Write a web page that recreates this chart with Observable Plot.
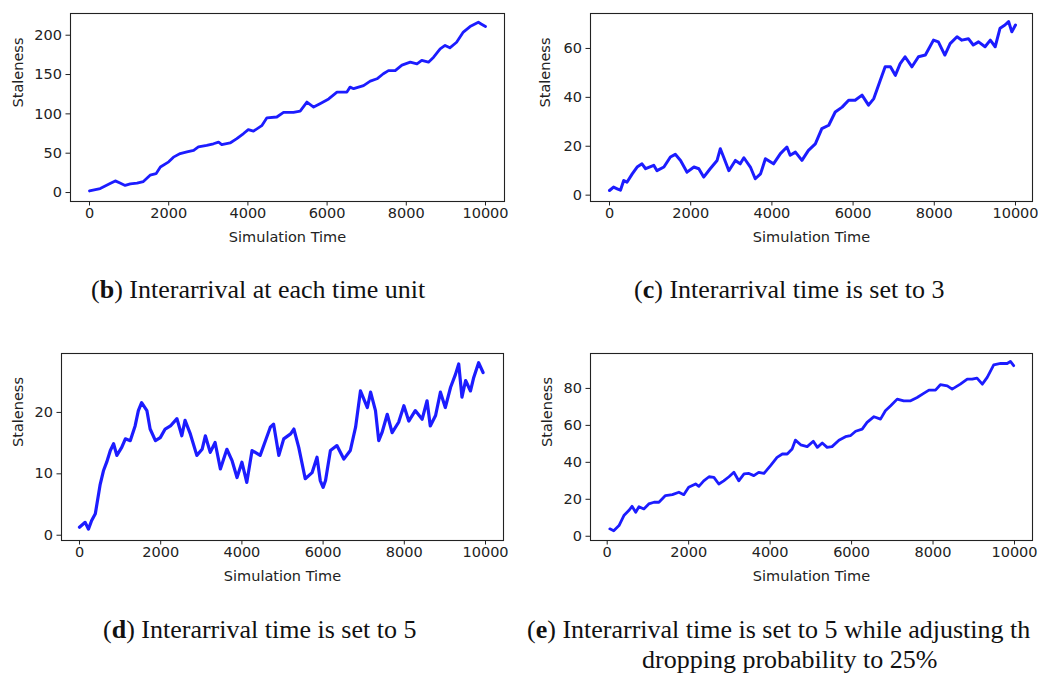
<!DOCTYPE html>
<html>
<head>
<meta charset="utf-8">
<script src="https://cdn.jsdelivr.net/npm/d3@7"></script>
<script src="https://cdn.jsdelivr.net/npm/@observablehq/plot@0.6"></script>
<style>
  html, body { margin: 0; padding: 0; background: #fff; overflow: hidden; }
  #root { position: relative; width: 1038px; height: 675px; overflow: hidden; background: #fff; }
  .panel { position: absolute; }
  .cap { position: absolute; font-family: "Liberation Serif", "DejaVu Serif", serif; font-size: 26px; color: #111; white-space: nowrap; line-height: 1; }
  .cap b { font-weight: bold; }
</style>
</head>
<body>
<div id="root"></div>
<script>
// ---- data ----
const xTicks = [0, 2000, 4000, 6000, 8000, 10000];

const bTime = [0,270,520,650,770,900,1030,1200,1360,1530,1680,1790,2000,2120,2290,2460,2630,2750,2960,3130,3260,3340,3550,3720,3890,4010,4140,4350,4480,4730,4900,5150,5320,5490,5660,5820,6040,6250,6500,6580,6670,6920,7090,7260,7420,7550,7720,7890,8100,8270,8390,8560,8690,8855,8980,9100,9270,9440,9610,9820,9900,10000];
const bStaleness = [2,5,11.4,14.8,12,9,11,12,14,22,24,32.5,39,45,49.5,51.6,53.7,58,60,62,64,61,63,68.5,75,80,78,85,95,96,102,102,103.6,115,108.7,113,119,127.7,127.7,134,132,136,141.6,144.6,151,155,155,162,165.7,163.6,168,165.7,172,182.6,187,184,191,204,211,216.5,214,211];
const bYTicks = [0, 50, 100, 150, 200];

const cTime = [0,100,190,270,350,430,560,680,800,890,1090,1170,1340,1500,1620,1750,1910,2080,2200,2320,2480,2650,2730,2810,2940,3100,3220,3310,3470,3590,3720,3840,4040,4210,4370,4450,4580,4740,4900,5070,5230,5400,5560,5730,5890,6050,6220,6380,6510,6670,6790,6920,7040,7160,7280,7450,7610,7780,7980,8100,8260,8390,8560,8680,8840,8960,9090,9250,9380,9500,9620,9740,9830,9910,10000];
const cStaleness = [1.9,3.3,2.6,2,6,5.3,8.7,11.5,12.8,10.8,12.2,10,11.5,15.6,16.7,14.2,9.4,11.5,10.8,7.4,10.8,14.2,19,15.6,10,14.2,12.8,15.3,11.5,6.7,8.7,14.9,12.8,17,19.7,16.3,17.6,14.2,18.3,21,27.2,28.6,34,36,38.8,38.8,40.9,36.8,39.5,47,52.5,52.5,49,53.8,56.6,52.5,56.6,57.3,63.4,62.7,57.3,62,64.8,63.4,64,61.4,62.7,60.7,63.4,60.7,68.3,69.6,71,66.8,69.6];
const cYTicks = [0, 20, 40, 60];

const dTime = [0,140,220,300,390,510,590,670,760,840,920,1040,1130,1250,1370,1450,1530,1660,1740,1870,1990,2110,2240,2400,2520,2600,2730,2890,3020,3100,3220,3340,3470,3630,3760,3880,4000,4120,4250,4450,4580,4700,4780,4910,5030,5200,5280,5400,5560,5730,5850,5930,6000,6060,6180,6340,6510,6670,6800,6920,7090,7170,7290,7370,7450,7580,7700,7860,7990,8110,8270,8440,8560,8640,8770,8890,9010,9140,9260,9340,9420,9510,9630,9710,9830,9940];
const dStaleness = [1.3,2.1,1.0,2.4,3.5,8.3,10.5,11.9,13.8,14.9,13,14.3,15.7,15.4,17.8,20.3,21.6,20.3,17.3,15.4,15.9,17.3,17.8,19,16.2,18.7,16.5,13,14,16.2,13.5,15.1,10.8,14,12.1,9.4,11.9,8.6,13.8,13,15.4,17.6,18.1,13,15.7,16.5,17.3,14.3,9.2,10.2,12.7,8.9,7.8,8.9,13.8,14.6,12.4,13.8,17.6,23.5,20.8,23.3,20.3,15.4,16.7,19.7,16.7,18.4,21.1,18.6,20.3,18.9,21.9,17.8,19.5,23.3,20.8,24.1,26.2,27.9,22.5,25.2,23.5,25.7,28.1,26.5];
const dYTicks = [0, 10, 20];

const eTime = [65,160,290,410,530,610,700,780,900,1020,1150,1270,1430,1600,1760,1880,2000,2170,2250,2370,2500,2620,2740,2860,2990,3110,3230,3360,3480,3600,3720,3850,4010,4170,4300,4420,4540,4620,4750,4910,5060,5160,5280,5400,5520,5690,5850,5970,6100,6260,6380,6550,6710,6830,6960,7120,7280,7450,7610,7770,7900,8060,8180,8350,8470,8670,8840,8960,9080,9210,9330,9490,9660,9820,9900,9980];
const eStaleness = [4,3,5.8,11.2,13.9,16.2,13,16,14.8,17.5,18.4,18.4,22,22.5,23.8,22.5,26.5,28.3,27,30,32.2,31.9,28.3,30,32.2,34.6,30,33.7,34,32.8,34.6,34,38.2,42.7,44.5,44.5,47.2,52,49.5,48.5,51.4,48.1,50.5,48.1,48.5,52,53.9,54.4,56.8,58,61.6,64.7,63.4,67.9,70.6,74.2,73.3,73.3,75.1,77.3,79.1,79.1,82,81.4,79.6,82.3,85,85,85.6,82.3,86,92.8,93.5,93.5,94.6,92.3];
const eYTicks = [0, 20, 40, 60, 80];

const xLabel = "Simulation Time";
const yLabel = "Staleness";

// ---- drawing ----
const root = document.getElementById("root");
const tickFont = "DejaVu Sans, sans-serif";
const fs = 14.5;

function panel({times, values, yTicks, xDomain, yDomain, left, top, width, height, margins, yLabelDx, strokeWidth}) {
  const rows = times.map((t, i) => ({t, v: values[i]}));
  const chart = Plot.plot({
    width, height,
    marginLeft: margins[0], marginRight: margins[1], marginTop: margins[2], marginBottom: margins[3],
    style: {fontFamily: tickFont, fontSize: fs + "px", color: "#222", background: "white", overflow: "visible"},
    x: {domain: xDomain},
    y: {domain: yDomain},
    marks: [
      Plot.line(rows, {x: "t", y: "v", stroke: "#1c1cff", strokeWidth, strokeLinejoin: "round"}),
      Plot.frame({stroke: "#222", strokeWidth: 1.1}),
      Plot.axisX({ticks: xTicks, tickFormat: d => String(d), tickSize: 4.5, tickPadding: 2, label: null, fontSize: fs, stroke: "#222"}),
      Plot.axisY({ticks: yTicks, tickFormat: d => String(d), tickSize: 4.5, tickPadding: 4, label: null, fontSize: fs, stroke: "#222"}),
      Plot.text([xLabel], {frameAnchor: "bottom", text: d => d, dy: 36, lineAnchor: "middle", fontSize: fs, fill: "#222"}),
      Plot.text([yLabel], {frameAnchor: "left", text: d => d, dx: yLabelDx, rotate: -90, lineAnchor: "middle", fontSize: fs, fill: "#222"})
    ]
  });
  chart.classList.add("panel");
  chart.style.left = left + "px";
  chart.style.top = top + "px";
  root.appendChild(chart);
}

panel({times: bTime, values: bStaleness, yTicks: bYTicks, xDomain: [-480, 10480], yDomain: [-11.4, 227.6],
  left: 0, top: 0, width: 520, height: 260, margins: [70, 16, 13, 59], yLabelDx: -52, strokeWidth: 2.8});
panel({times: cTime, values: cStaleness, yTicks: cYTicks, xDomain: [-468, 10419], yDomain: [-2.6, 74.3],
  left: 520, top: 0, width: 518, height: 260, margins: [70, 6, 13, 59], yLabelDx: -45, strokeWidth: 3});
panel({times: dTime, values: dStaleness, yTicks: dYTicks, xDomain: [-443, 10443], yDomain: [-0.86, 29.6],
  left: 0, top: 340, width: 520, height: 260, margins: [61, 17, 13, 60], yLabelDx: -43, strokeWidth: 3.2});
panel({times: eTime, values: eStaleness, yTicks: eYTicks, xDomain: [-410, 10442], yDomain: [-2.3, 98.9],
  left: 520, top: 340, width: 518, height: 260, margins: [70, 6, 13, 60], yLabelDx: -43, strokeWidth: 2.8});

// captions
function caption(letter, text, left, top) {
  const div = document.createElement("div");
  div.className = "cap";
  div.innerHTML = "(<b>" + letter + "</b>) " + text;
  div.style.left = left + "px";
  div.style.top = top + "px";
  root.appendChild(div);
  return div;
}
caption("b", "Interarrival at each time unit", 91, 277);
caption("c", "Interarrival time is set to 3", 634, 277);
caption("d", "Interarrival time is set to 5", 103, 617);
caption("e", "Interarrival time is set to 5 while adjusting th", 527, 617);
const line2 = document.createElement("div");
line2.className = "cap";
line2.textContent = "dropping probability to 25%";
line2.style.left = "642px";
line2.style.top = "647px";
root.appendChild(line2);
</script>
</body>
</html>
